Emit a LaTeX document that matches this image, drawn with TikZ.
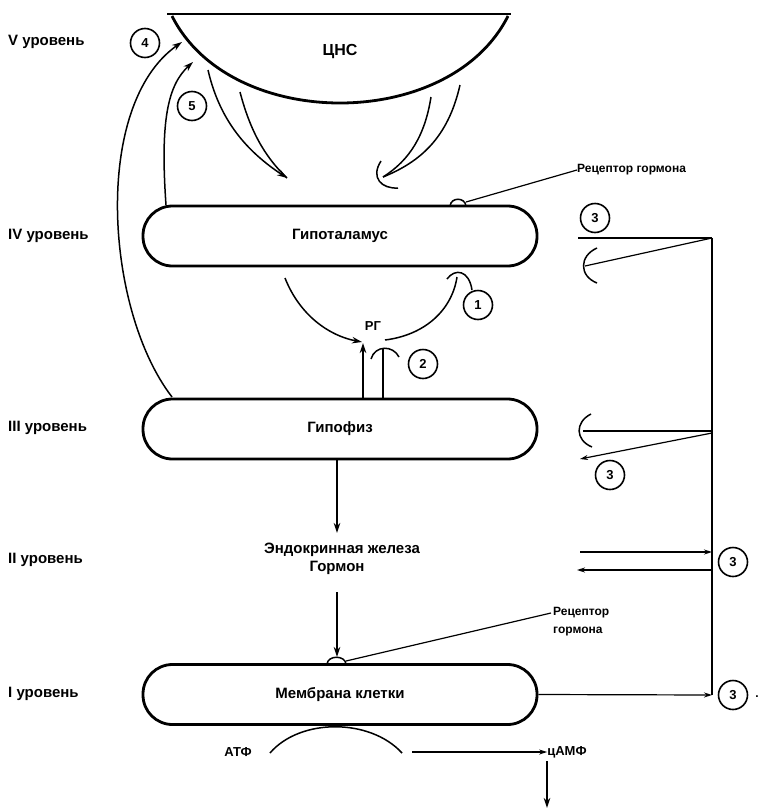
\documentclass[tikz,border=0pt]{standalone}
\usepackage{fontspec}
\setmainfont{Liberation Sans}
\usetikzlibrary{arrows.meta}
\begin{document}
\begin{tikzpicture}[x=1pt,y=-1pt,
  lbl/.style={font=\bfseries\fontsize{15}{17}\selectfont, inner sep=0pt},
  lvl/.style={font=\bfseries\fontsize{15}{17}\selectfont, anchor=west, inner sep=0pt},
  txs/.style={font=\bfseries\fontsize{12}{18}\selectfont, inner sep=0pt},
  organ/.style={draw, line width=2.8pt, rounded corners=29.5pt, minimum width=394pt,
     minimum height=60pt, inner sep=0pt, font=\bfseries\fontsize{15}{17}\selectfont},
  num/.style={draw, circle, line width=1.6pt, minimum size=29pt, inner sep=0pt,
     font=\bfseries\fontsize{13}{15}\selectfont},
  arr/.style={line width=1.5pt, -{Stealth[length=10pt,width=6.5pt]}},
  ln/.style={line width=1.5pt},
  rline/.style={line width=1.2pt},
  rarr/.style={line width=1.2pt, -{Stealth[length=8pt,width=5pt]}},
]
\useasboundingbox (0,0) rectangle (759,809);

% ---- level labels
\node[lvl] (l5) at (8,42) {V уровень};
\node[lvl] (l4) at (8,236) {IV уровень};
\node[lvl] (l3) at (8,428) {III уровень};
\node[lvl] (l2) at (8,560) {II уровень};
\node[lvl] (l1) at (8,694) {I уровень};

% ---- CNS bowl
\coordinate (cnsL) at (172,16);
\coordinate (cnsR) at (508,16);
\draw[line width=2.8pt] (167,14) -- (511,14);
\draw[line width=2.8pt] (cnsL) .. controls (230,132) and (450,132) .. (cnsR);
\node[lbl, font=\bfseries\fontsize{16}{18}\selectfont] (cns) at (340,52) {ЦНС};

% ---- organ boxes
\node[organ] (hyp) at (340,236) {Гипоталамус};
\node[organ] (pit) at (340,429) {Гипофиз};
\node[organ] (mem) at (340,694.5) {Мембрана клетки};

% ---- numbered circles
\node[num] (c4) at (145,43) {4};
\node[num] (c5) at (192,106) {5};
\node[num] (c1) at (478,305) {1};
\node[num] (c2) at (423,364) {2};
\node[num] (c3a) at (595,218) {3};
\node[num] (c3b) at (610,475) {3};
\node[num] (c3c) at (733,562) {3};
\node[num] (c3d) at (733,695) {3};
\node[txs] (dot) at (757,697) {.};

% ---- feedback arrows 4 and 5
\coordinate (a4s) at (172,397);
\coordinate (a4e) at (182,42);
\draw[arr] (a4s) .. controls (105,310) and (92,105) .. (a4e);
\coordinate (a5s) at (166,205);
\coordinate (a5e) at (193,62);
\draw[arr] (a5s) .. controls (160,120) and (168,85) .. (a5e);

% ---- CNS -> hypothalamus (stimulation)
\coordinate (sA) at (208,70);
\coordinate (sB) at (240,92);
\coordinate (sT) at (287,178);
\draw[arr] (sA) .. controls (220,122) and (248,152) .. (sT);
\draw[ln] (sB) .. controls (250,130) and (264,156) .. (sT);

% ---- CNS -> hypothalamus (inhibition)
\coordinate (iA) at (460,85);
\coordinate (iB) at (431,97);
\coordinate (iT) at (383,177);
\draw[ln] (iA) .. controls (448,138) and (420,162) .. (iT);
\draw[ln] (iB) .. controls (425,135) and (410,160) .. (iT);
\draw[ln] (381,161) .. controls (370,178) and (382,189) .. (398,188);

% ---- receptor on hypothalamus
\draw[ln] (450,206) .. controls (451,197) and (465,197) .. (466,206);
\node[txs, anchor=west] (rtxt1) at (577,170) {Рецептор гормона};
\draw[rline] (466,202) -- (rtxt1.west);

% ---- RG loop
\node[txs, font=\bfseries\fontsize{13}{15}\selectfont] (rg) at (373,326) {РГ};
\coordinate (rgL) at (285,278);
\coordinate (rgT) at (362,342);
\draw[arr] (rgL) .. controls (300,316) and (330,336) .. (rgT);
\coordinate (rgR) at (385,340);
\draw[ln] (rgR) .. controls (425,335) and (452,310) .. (457,277);
\draw[ln] (447,279) .. controls (455,268) and (469,270) .. (472,290);

% ---- arrows 2
\coordinate (p2a) at (363,399);
\coordinate (p2b) at (383,399);
\draw[arr] (p2a) -- (363,343);
\draw[ln] (p2b) -- (383,349);
\draw[ln] (371,359) .. controls (375,345) and (393,345) .. (399,357);

% ---- pituitary -> endocrine gland -> membrane
\node[lbl] (gland) at (342,550) {Эндокринная железа};
\node[lbl] (horm) at (337,568) {Гормон};
\coordinate (pS) at (337,460);
\draw[arr] (pS) -- (337,533);
\coordinate (hT) at (337,592);
\draw[arr] (hT) -- (337,657);

% ---- receptor on membrane
\draw[ln] (327,664) .. controls (328,655) and (345,655) .. (346,664);
\node[txs, anchor=west, align=left] (rtxt2) at (553,622) {Рецептор\\гормона};
\draw[rline] (346,661) -- (551,613);

% ---- ATP -> cAMP
\node[lbl, font=\bfseries\fontsize{13}{15}\selectfont] (atp) at (238,752) {АТФ};
\node[lbl, font=\bfseries\fontsize{13}{15}\selectfont] (camp) at (567,752) {цАМФ};
\draw[ln] (270,753) .. controls (300,718) and (370,718) .. (402,753);
\coordinate (atpE) at (412,752);
\draw[rarr] (atpE) -- (camp.west);
\coordinate (campD) at (547,808);
\draw[arr] (547,761) -- (campD);

% ---- right-hand feedback network
\coordinate (vt) at (712,238);
\coordinate (v3) at (712,431);
\coordinate (v2a) at (712,552);
\coordinate (v2b) at (712,570);
\coordinate (vb) at (712,695);
\draw[rline] (vt) -- (vb);
% level IV
\draw[rline] (578,238) -- (vt);
\draw[rline] (vt) -- (585,266);
\draw[ln] (597,248) .. controls (579,256) and (579,276) .. (597,283);
% level III
\draw[rline] (583,431) -- (v3);
\draw[ln] (591,414) .. controls (575,422) and (575,440) .. (592,447);
\draw[rarr] (712,433) -- (580,459);
% level II
\draw[rarr] (580,552) -- (v2a);
\draw[rarr] (v2b) -- (577,570);
% level I
\draw[rarr] (mem.east) -- (vb);

\end{tikzpicture}
\end{document}
